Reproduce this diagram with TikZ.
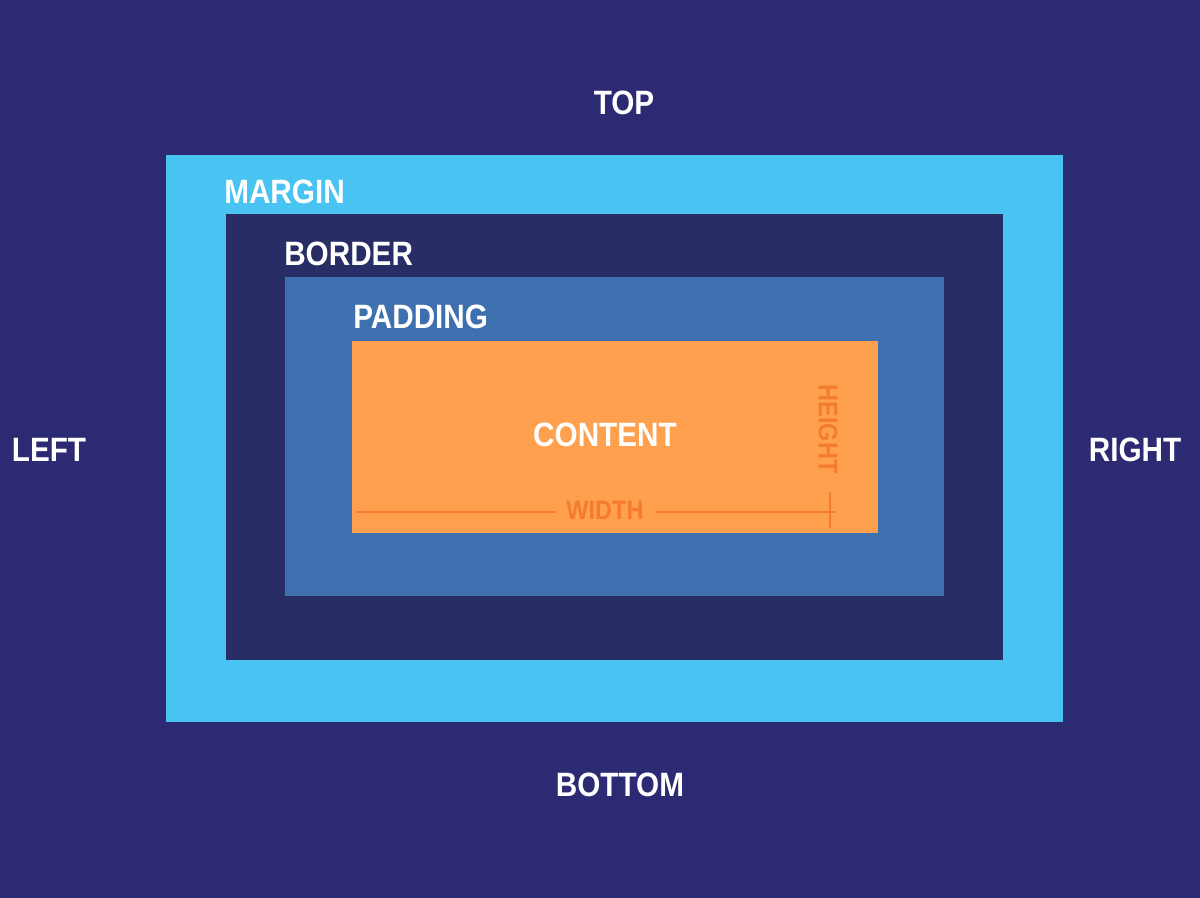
\documentclass[tikz,border=0pt]{standalone}
\usepackage{fontspec}
\setmainfont{Liberation Sans}[FakeStretch=0.88]
\usepackage{xcolor}
\usetikzlibrary{positioning}

\definecolor{bgnavy}{HTML}{2B2A73}
\definecolor{marginblue}{HTML}{48C3F2}
\definecolor{bordernavy}{HTML}{282D66}
\definecolor{paddingblue}{HTML}{3E6FAE}
\definecolor{contentorange}{HTML}{FEA04E}
\definecolor{dimorange}{HTML}{F47C2C}

\begin{document}
\begin{tikzpicture}[
        x=0.025cm, y=-0.025cm,
        side/.style={text=white, inner sep=0pt, font=\fontsize{24}{28}\selectfont\bfseries},
        layer/.style={text=white, inner sep=0pt, anchor=west, font=\fontsize{24}{28}\selectfont\bfseries},
        dim/.style={text=dimorange, inner sep=0pt, font=\fontsize{19}{23}\selectfont\bfseries},
        dimline/.style={draw=dimorange, line width=1.4pt}
    ]
        \fill[bgnavy] (0,0) rectangle (1200,898);
        \useasboundingbox (0,0) rectangle (1200,898);

        % nested boxes
        \fill[marginblue] (166,155) rectangle (1063,722);
        \fill[bordernavy] (226,214) rectangle (1003,660);
        \fill[paddingblue] (285,277) rectangle (944,596);
        \fill[contentorange] (352,341) rectangle (878,533);

        \node[side] (top) at (624,103) {TOP};
        \node[side] (bottom) at (620,785) {BOTTOM};
        \node[side] (left) at (49,450) {LEFT};
        \node[side] (right) at (1135,450) {RIGHT};

        \node[layer] (margin) at (224,192) {MARGIN};
        \node[layer] (border) at (284,254) {BORDER};
        \node[layer] (padding) at (353,317) {PADDING};
        \node[side] (content) at (605,435) {CONTENT};

        \node[dim] (width) at (605,510) {WIDTH};
        \node[dim, rotate=-90] (height) at (828,429) {HEIGHT};

        % width dimension line
        \coordinate (wstart) at (357,512);
        \coordinate (wgapl) at (555,512);
        \coordinate (wgapr) at (656,512);
        \coordinate (wend) at (836,512);
        \coordinate (ttop) at (830,492);
        \coordinate (tbot) at (830,528);
        \draw[dimline] (wstart) -- (wgapl);
        \draw[dimline] (wgapr) -- (wend);
        \draw[dimline] (ttop) -- (tbot);
    \end{tikzpicture}
\end{document}
